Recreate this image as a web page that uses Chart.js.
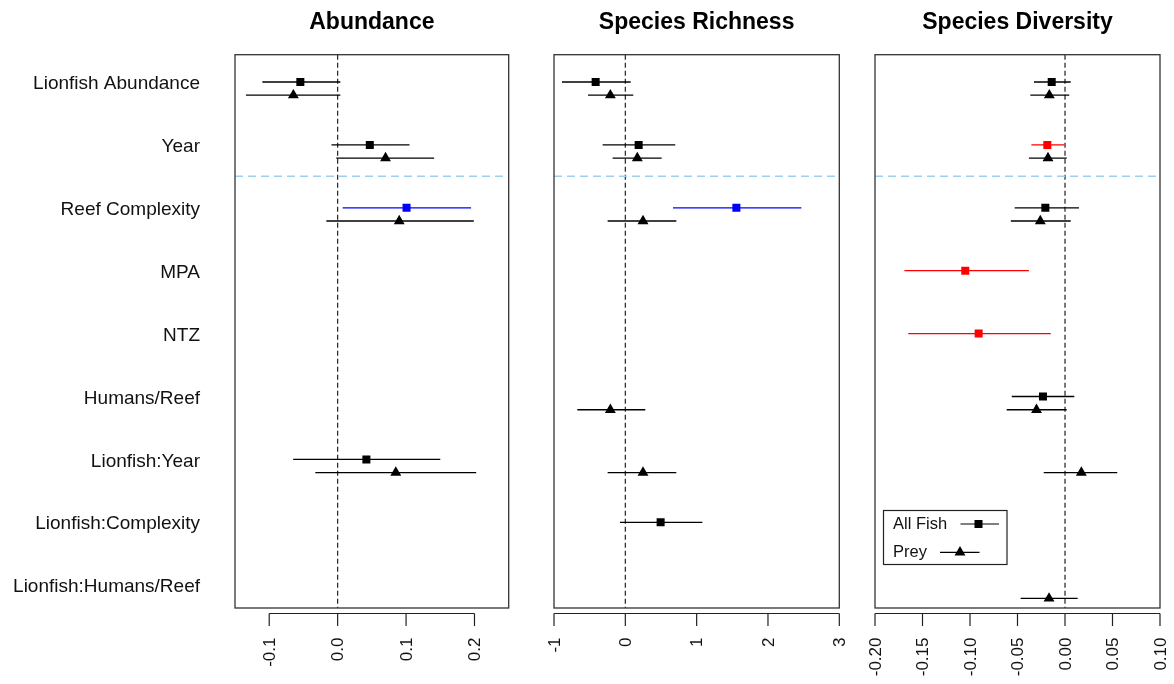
<!DOCTYPE html>
<html>
<head>
<meta charset="utf-8">
<title>Lionfish coefficient plots</title>
<script src="https://cdn.jsdelivr.net/npm/chart.js@4.4.1/dist/chart.umd.min.js"></script>
<style>
  html, body { margin: 0; padding: 0; background: #fff; }
  #wrap { position: relative; width: 1174px; height: 684px; overflow: hidden; }
  #wrap canvas { position: absolute; left: 0; top: 0; }
</style>
</head>
<body>
<div id="wrap">
  <canvas id="c-abun" width="1174" height="684"></canvas>
  <canvas id="c-rich" width="1174" height="684"></canvas>
  <canvas id="c-div" width="1174" height="684"></canvas>
</div>
<script>
/* ─── Data ─── */
var rowLabels = ['Lionfish Abundance', 'Year', 'Reef Complexity', 'MPA', 'NTZ',
  'Humans/Reef', 'Lionfish:Year', 'Lionfish:Complexity', 'Lionfish:Humans/Reef'];

// Abundance
var abunAllEst  = [-0.0545, 0.047, 0.1007, null, null, null, 0.042, null, null];
var abunAllLo   = [-0.110, -0.009, 0.0073, null, null, null, -0.065, null, null];
var abunAllHi   = [0.004, 0.105, 0.195, null, null, null, 0.150, null, null];
var abunPreyEst = [-0.0647, 0.070, 0.090, null, null, null, 0.085, null, null];
var abunPreyLo  = [-0.134, -0.002, -0.0165, null, null, null, -0.0326, null, null];
var abunPreyHi  = [0.004, 0.141, 0.199, null, null, null, 0.2025, null, null];

// Species Richness
var richAllEst  = [-0.416, 0.187, 1.557, null, null, null, null, 0.495, null];
var richAllLo   = [-0.888, -0.318, 0.668, null, null, null, null, -0.075, null];
var richAllHi   = [0.075, 0.700, 2.468, null, null, null, null, 1.080, null];
var richPreyEst = [-0.210, 0.168, 0.248, null, null, -0.210, 0.248, null, null];
var richPreyLo  = [-0.523, -0.178, -0.248, null, null, -0.673, -0.248, null, null];
var richPreyHi  = [0.112, 0.509, 0.715, null, null, 0.280, 0.715, null, null];

// Species Diversity
var divAllEst  = [-0.014, -0.0186, -0.0207, -0.105, -0.0909, -0.0232, null, null, null];
var divAllLo   = [-0.0326, -0.0354, -0.053, -0.169, -0.165, -0.056, null, null, null];
var divAllHi   = [0.006, -0.0005, 0.0147, -0.038, -0.015, 0.0098, null, null, null];
var divPreyEst = [-0.0165, -0.0179, -0.026, null, null, -0.030, 0.0172, null, -0.0168];
var divPreyLo  = [-0.0365, -0.038, -0.057, null, null, -0.0614, -0.0224, null, -0.0467];
var divPreyHi  = [0.0045, 0.0018, 0.006, null, null, 0.0018, 0.055, null, 0.0133];

// Axis ticks
var abunTicks = [-0.1, 0, 0.1, 0.2];
var abunTickLabels = ['-0.1', '0.0', '0.1', '0.2'];
var richTicks = [-1, 0, 1, 2, 3];
var richTickLabels = ['-1', '0', '1', '2', '3'];
var divTicks = [-0.2, -0.15, -0.1, -0.05, 0, 0.05, 0.1];
var divTickLabels = ['-0.20', '-0.15', '-0.10', '-0.05', '0.00', '0.05', '0.10'];

/* ─── Helpers ─── */
var FONT = '"Liberation Sans", Arial, Helvetica, sans-serif';
Chart.defaults.font.family = FONT;

var PREY_OFFSET = 0.21;   // triangle sits a bit below the square
var DIVIDER = 1.5;        // light blue line between Year and Reef Complexity

function buildPoints(est, lo, hi, off) {
  var pts = [];
  est.forEach(function (v, i) {
    if (v === null) return;
    pts.push({ x: v, y: i + off, lo: lo[i], hi: hi[i] });
  });
  return pts;
}

// blue = interval above zero, red = interval below zero
function sigColor(p) {
  if (!p) return '#000';
  if (p.lo > 0) return '#0000ff';
  if (p.hi < 0) return '#ff0000';
  return '#000000';
}

var coefPlugin = {
  id: 'coefPanel',
  beforeDatasetsDraw: function (chart, args, opts) {
    var ctx = chart.ctx, area = chart.chartArea;
    var xs = chart.scales.x, ys = chart.scales.y;
    ctx.save();

    // zero line
    var x0 = xs.getPixelForValue(0);
    ctx.strokeStyle = '#222';
    ctx.lineWidth = 1.2;
    ctx.setLineDash([5, 3]);
    ctx.beginPath();
    ctx.moveTo(x0, area.top);
    ctx.lineTo(x0, area.bottom);
    ctx.stroke();

    // divider
    var yd = ys.getPixelForValue(DIVIDER);
    ctx.strokeStyle = '#9fcfee';
    ctx.lineWidth = 1.5;
    ctx.setLineDash([8, 5]);
    ctx.beginPath();
    ctx.moveTo(area.left, yd);
    ctx.lineTo(area.right, yd);
    ctx.stroke();
    ctx.setLineDash([]);

    // error bars
    ctx.lineWidth = 1.3;
    chart.data.datasets.forEach(function (ds) {
      ds.data.forEach(function (p) {
        var y = ys.getPixelForValue(p.y);
        ctx.strokeStyle = sigColor(p);
        ctx.beginPath();
        ctx.moveTo(xs.getPixelForValue(p.lo), y);
        ctx.lineTo(xs.getPixelForValue(p.hi), y);
        ctx.stroke();
      });
    });
    ctx.restore();
  },
  afterDraw: function (chart, args, opts) {
    var ctx = chart.ctx, area = chart.chartArea;
    var xs = chart.scales.x;
    ctx.save();

    // box
    ctx.strokeStyle = '#333';
    ctx.lineWidth = 1.3;
    ctx.strokeRect(area.left, area.top, area.right - area.left, area.bottom - area.top);

    // R-style x axis
    var ticks = opts.ticks, labels = opts.tickLabels;
    var yAx = area.bottom + 5.5;
    ctx.strokeStyle = '#222';
    ctx.lineWidth = 1.2;
    ctx.beginPath();
    ctx.moveTo(xs.getPixelForValue(ticks[0]), yAx);
    ctx.lineTo(xs.getPixelForValue(ticks[ticks.length - 1]), yAx);
    ticks.forEach(function (t) {
      var x = xs.getPixelForValue(t);
      ctx.moveTo(x, yAx);
      ctx.lineTo(x, yAx + 12.5);
    });
    ctx.stroke();

    ctx.fillStyle = '#111';
    ctx.font = '17px ' + FONT;
    ctx.textAlign = 'right';
    ctx.textBaseline = 'middle';
    ticks.forEach(function (t, i) {
      ctx.save();
      ctx.translate(xs.getPixelForValue(t) + 1, area.bottom + 29.5);
      ctx.rotate(-Math.PI / 2);
      ctx.fillText(labels[i], 0, 0);
      ctx.restore();
    });

    // title
    ctx.fillStyle = '#000';
    ctx.font = 'bold 23px ' + FONT;
    ctx.textAlign = 'center';
    ctx.textBaseline = 'middle';
    ctx.fillText(opts.title, (area.left + area.right) / 2, 23);

    // legend
    if (opts.legend) {
      var lx = area.left + 8.5, ly = area.bottom - 97.5;
      ctx.strokeStyle = '#222';
      ctx.lineWidth = 1.2;
      ctx.strokeRect(lx, ly, 123.5, 54);
      var rows = [
        { y: ly + 13.5, x1: lx + 77, x2: lx + 115.5, mx: lx + 95, r: 5.66 },
        { y: ly + 41.8, x1: lx + 56.5, x2: lx + 96, mx: lx + 76.5, r: 6.3 }
      ];
      ctx.font = '16.5px ' + FONT;
      ctx.textAlign = 'left';
      chart.data.datasets.forEach(function (ds, i) {
        var r = rows[i];
        ctx.fillStyle = '#111';
        ctx.fillText(ds.label, lx + 9.5, r.y);
        ctx.strokeStyle = '#000';
        ctx.beginPath();
        ctx.moveTo(r.x1, r.y);
        ctx.lineTo(r.x2, r.y);
        ctx.stroke();
        ctx.fillStyle = '#000';
        Chart.helpers.drawPoint(ctx, { pointStyle: ds.pointStyle, radius: r.r, borderWidth: 0, rotation: 0 }, r.mx, r.y);
      });
    }
    ctx.restore();
  }
};

function makePanel(id, cfg) {
  var yScale = {
    type: 'linear',
    min: -0.434,
    max: 8.362,
    reverse: true,
    display: false
  };
  if (cfg.rowLabels) {
    yScale.display = true;
    yScale.position = 'left';
    yScale.grid = { display: false, drawTicks: false };
    yScale.border = { display: false };
    yScale.ticks = {
      padding: 35,
      autoSkip: false,
      color: '#111',
      font: { size: 19 },
      callback: function (v, idx) { return rowLabels[idx]; }
    };
    yScale.afterBuildTicks = function (s) {
      s.ticks = rowLabels.map(function (_, i) { return { value: i + 0.03 }; });
    };
    yScale.afterFit = function (s) { s.width = 223; };
  }

  return new Chart(document.getElementById(id), {
    type: 'scatter',
    data: {
      datasets: [
        {
          label: 'All Fish',
          data: buildPoints(cfg.all[0], cfg.all[1], cfg.all[2], 0),
          pointStyle: 'rect',
          pointRadius: 5.66,
          pointBorderWidth: 0,
          pointBackgroundColor: function (c) { return sigColor(c.raw); },
          pointBorderColor: function (c) { return sigColor(c.raw); }
        },
        {
          label: 'Prey',
          data: buildPoints(cfg.prey[0], cfg.prey[1], cfg.prey[2], PREY_OFFSET),
          pointStyle: 'triangle',
          pointRadius: 6.3,
          pointBorderWidth: 0,
          pointBackgroundColor: function (c) { return sigColor(c.raw); },
          pointBorderColor: function (c) { return sigColor(c.raw); }
        }
      ]
    },
    options: {
      responsive: false,
      animation: false,
      devicePixelRatio: 1,
      events: [],
      layout: { padding: cfg.padding },
      plugins: {
        legend: { display: false },
        tooltip: { enabled: false },
        coefPanel: {
          title: cfg.title,
          ticks: cfg.ticks,
          tickLabels: cfg.tickLabels,
          legend: !!cfg.legend
        }
      },
      scales: {
        x: { type: 'linear', min: cfg.range[0], max: cfg.range[1], display: false },
        y: yScale
      }
    },
    plugins: [coefPlugin]
  });
}

makePanel('c-abun', {
  title: 'Abundance',
  rowLabels: true,
  range: [-0.15, 0.25],
  ticks: abunTicks, tickLabels: abunTickLabels,
  all: [abunAllEst, abunAllLo, abunAllHi],
  prey: [abunPreyEst, abunPreyLo, abunPreyHi],
  padding: { left: 12, right: 665.3, top: 54.7, bottom: 76 }
});

makePanel('c-rich', {
  title: 'Species Richness',
  range: [-1, 3],
  ticks: richTicks, tickLabels: richTickLabels,
  all: [richAllEst, richAllLo, richAllHi],
  prey: [richPreyEst, richPreyLo, richPreyHi],
  padding: { left: 554, right: 334.7, top: 54.7, bottom: 76 }
});

makePanel('c-div', {
  title: 'Species Diversity',
  range: [-0.2, 0.1],
  ticks: divTicks, tickLabels: divTickLabels,
  all: [divAllEst, divAllLo, divAllHi],
  prey: [divPreyEst, divPreyLo, divPreyHi],
  legend: true,
  padding: { left: 875, right: 14, top: 54.7, bottom: 76 }
});
</script>
</body>
</html>
